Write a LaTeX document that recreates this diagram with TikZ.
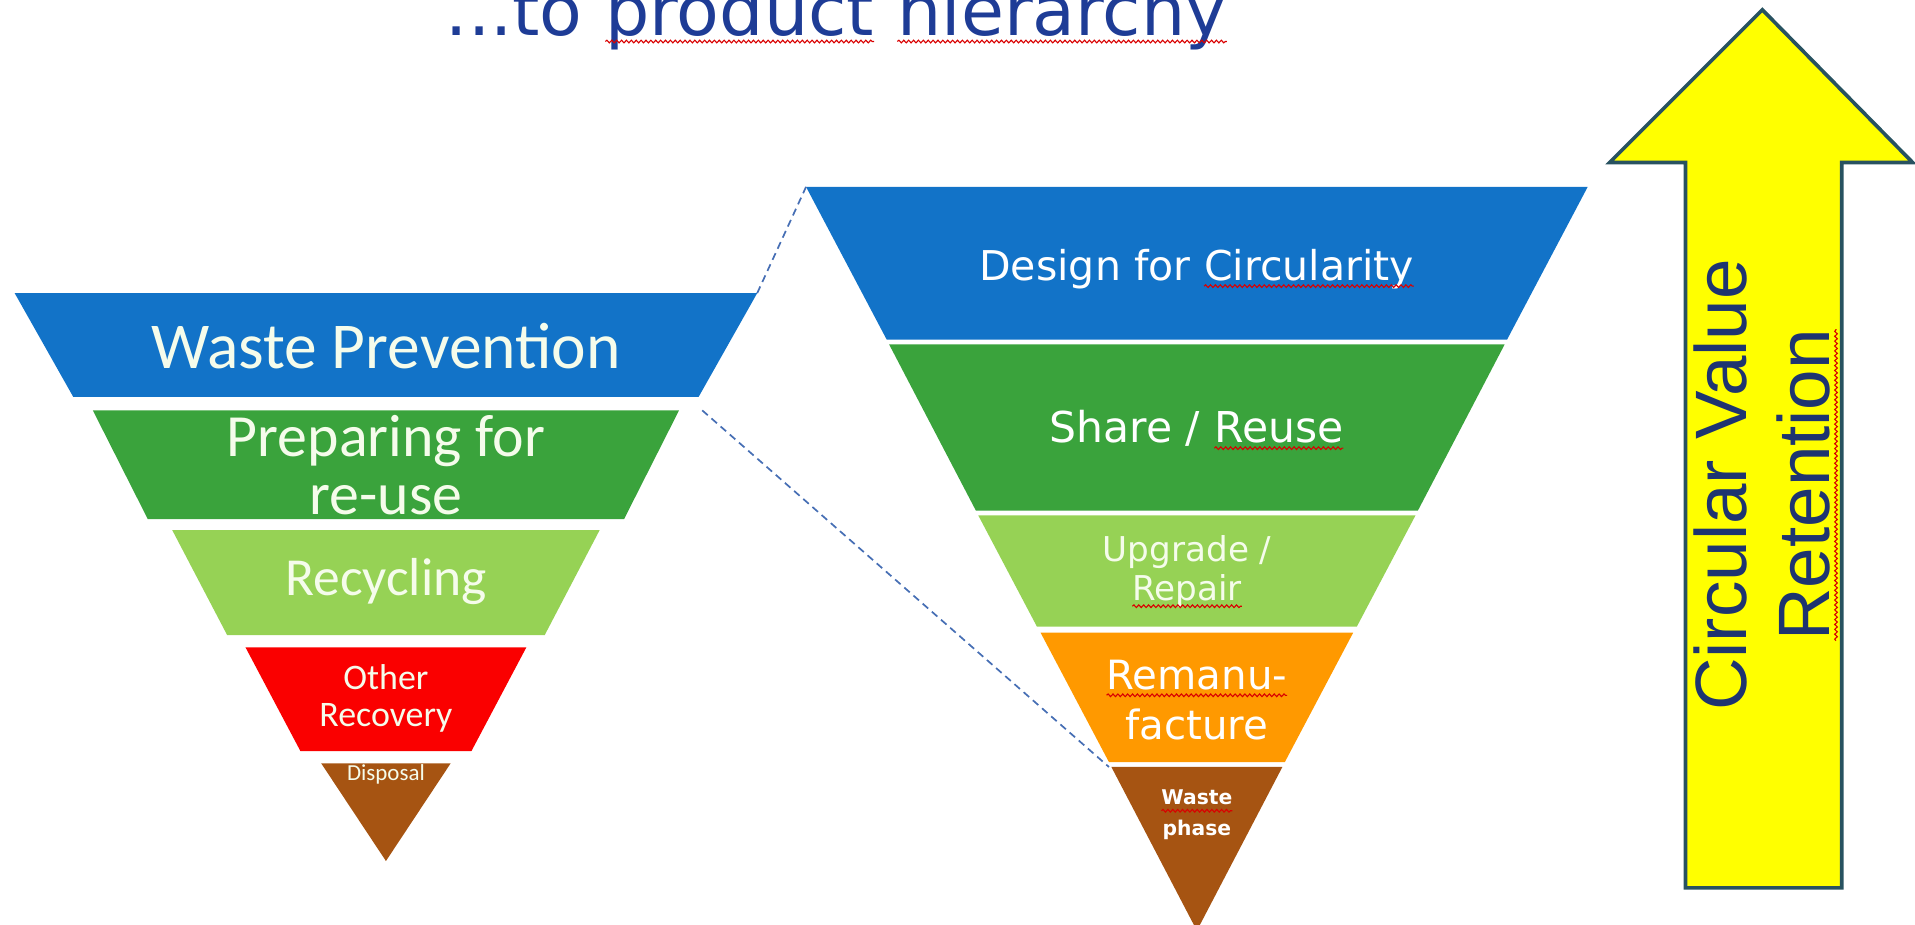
\documentclass[tikz,border=0pt]{standalone}
\usepackage{fontspec}
\setmainfont{Carlito}
\newfontfamily\verd{DejaVu Sans}
\newfontfamily\arl{Liberation Sans}
\usetikzlibrary{calc,decorations.pathmorphing}

\definecolor{hblue}{RGB}{18,115,200}
\definecolor{hgreen}{RGB}{58,163,60}
\definecolor{hlime}{RGB}{150,210,85}
\definecolor{hred}{RGB}{250,0,0}
\definecolor{horange}{RGB}{255,153,0}
\definecolor{hbrown}{RGB}{166,84,18}
\definecolor{hyellow}{RGB}{255,255,0}
\definecolor{hedge}{RGB}{40,82,96}
\definecolor{hnavy}{RGB}{30,52,112}
\definecolor{htitle}{RGB}{30,60,150}
\definecolor{hdash}{RGB}{70,110,180}
\definecolor{hwhite}{RGB}{245,252,235}

\tikzset{spell/.style={draw=red!85!black,line width=0.45pt,decorate,
    decoration={snake,amplitude=0.55pt,segment length=2pt}}}
% word with spell-check wave under it
\newcommand{\squig}[1]{\tikz[baseline=(w.base)]{\node[inner sep=0pt,outer sep=0pt] (w) {#1};
    \draw[spell] ([yshift=-2.5pt]w.base west) -- ([yshift=-2.5pt]w.base east);}}

\begin{document}
\begin{tikzpicture}[x=0.5pt,y=-0.5pt,
    lbl/.style={text=hwhite,align=center,inner sep=0pt},
    zoomline/.style={draw=hdash,line width=0.7pt,dash pattern=on 3pt off 2pt}]
  \useasboundingbox (0,0) rectangle (1568,757);
  \clip (0,0) rectangle (1568,757);

  \node[anchor=base,text=htitle,font=\verd\fontsize{28.6}{30}\selectfont] (title) at (685,29)
    {...to \squig{product} \squig{hierarchy}};

  % waste hierarchy
  \foreach \yt/\yb/\wt/\wb/\c in {240/325/304/256/hblue, 336/425/240/195/hgreen,
      434/520/175/130/hlime, 530/615/115/70/hred, 625/705/53/0/hbrown}
    \fill[\c] ({316-\wt},\yt) -- ({316+\wt},\yt) -- ({316+\wb},\yb) -- ({316-\wb},\yb) -- cycle;
  % product hierarchy
  \foreach \yt/\yb/\wt/\wb/\c in {153/278/320/254/hblue, 282/418/252/181/hgreen,
      422/513/179/131/hlime, 518/624/128/72/horange, 628/762/70/0/hbrown}
    \fill[\c] ({980-\wt},\yt) -- ({980+\wt},\yt) -- ({980+\wb},\yb) -- ({980-\wb},\yb) -- cycle;

  \node[lbl,font=\fontsize{26.8}{28}\selectfont] (wp) at (316,283) {Waste Prevention};
  \node[lbl,font=\fontsize{24.5}{23.5}\selectfont] (prep) at (316,381) {Preparing for\\re-use};
  \node[lbl,font=\fontsize{21.9}{22}\selectfont] (rec) at (316,476) {Recycling};
  \node[lbl,font=\fontsize{14.7}{15}\selectfont] (orec) at (316,572) {Other\\Recovery};
  \node[lbl,font=\fontsize{9.4}{10}\selectfont] (disp) at (316,634) {Disposal};

  \node[lbl,text=white,font=\verd\fontsize{16.8}{18}\selectfont] (dfc) at (980,220) {Design for \squig{Circularity}};
  \node[lbl,text=white,font=\verd\fontsize{17.4}{18}\selectfont] (sr) at (980,352) {Share / \squig{Reuse}};
  \node[lbl,font=\verd\fontsize{14}{16}\selectfont] (ur) at (972,468) {Upgrade /\\\squig{Repair}};
  \node[lbl,text=white,font=\verd\fontsize{16.5}{20.5}\selectfont] (rm) at (980,573) {\squig{Remanu-}\\facture};
  \node[lbl,text=white,font=\verd\bfseries\fontsize{8.3}{12.5}\selectfont] (wph) at (980,667) {\squig{Waste}\\phase};

  % zoom lines between the two pyramids
  \coordinate (ltop) at (620,240);
  \coordinate (rtop) at (660,153);
  \coordinate (lcut) at (575,336);
  \coordinate (rcut) at (908,628);
  \draw[zoomline] (ltop) -- (rtop);
  \draw[zoomline] (lcut) -- (rcut);

  % value retention arrow
  \coordinate (tip) at (1443,8);
  \draw[fill=hyellow,draw=hedge,line width=1.5pt,line join=miter] (tip) -- (1566,133) -- (1508,133)
    -- (1508,727) -- (1380,727) -- (1380,133) -- (1318,133) -- cycle;
  \node[rotate=90,text=hnavy,align=center,inner sep=0pt,font=\arl\fontsize{29.8}{34}\selectfont] (cvr)
    at (1446,397) {Circular Value\\\squig{Retention}};
\end{tikzpicture}
\end{document}
